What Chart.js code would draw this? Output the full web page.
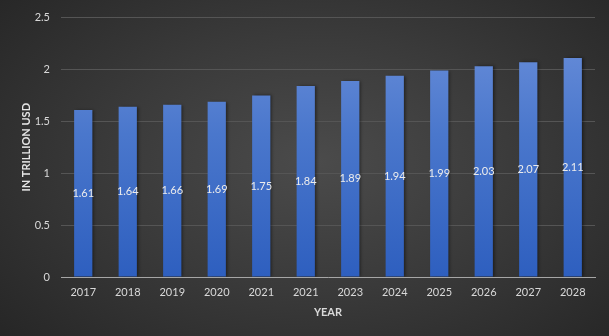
<!DOCTYPE html>
<html>
<head>
<meta charset="utf-8">
<script src="https://cdn.jsdelivr.net/npm/chart.js@4"></script>
<style>
  html, body { margin: 0; padding: 0; }
  #wrap {
    width: 609px; height: 336px; position: relative;
    background: radial-gradient(ellipse 75% 85% at 52% 48%, #4b4b4b 0%, #3a3a3a 45%, #232323 100%);
  }
</style>
</head>
<body>
<div id="wrap"><canvas id="chart" width="609" height="336"></canvas></div>
<script>
// chart data
const years = ['2017', '2018', '2019', '2020', '2021', '2021', '2023', '2024', '2025', '2026', '2027', '2028'];
const values = [1.61, 1.64, 1.66, 1.69, 1.75, 1.84, 1.89, 1.94, 1.99, 2.03, 2.07, 2.11];
const yTicks = [0, 0.5, 1, 1.5, 2, 2.5];

const tickFont = { family: 'Lato', size: 11 };

function barFill(context) {
  const area = context.chart.chartArea;
  if (!area) return '#4a76cc';
  const g = context.chart.ctx.createLinearGradient(0, area.bottom, 0, area.top);
  g.addColorStop(0, '#2e5fbf');
  g.addColorStop(0.55, '#4a77cc');
  g.addColorStop(0.85, '#6188d6');
  g.addColorStop(1, '#6a8fda');
  return g;
}

// shadow behind the bars
const barShadow = {
  id: 'barShadow',
  beforeDatasetsDraw(chart) {
    const ctx = chart.ctx;
    ctx.save();
    ctx.shadowColor = 'rgba(0,0,0,0.45)';
    ctx.shadowBlur = 3;
    ctx.shadowOffsetX = 2;
  },
  afterDatasetsDraw(chart) {
    chart.ctx.restore();
  }
};

// value labels in the middle of each bar
const midLabels = {
  id: 'midLabels',
  afterDatasetsDraw(chart) {
    const ctx = chart.ctx;
    const meta = chart.getDatasetMeta(0);
    ctx.save();
    ctx.fillStyle = '#ececec';
    ctx.font = '11px Lato';
    ctx.textAlign = 'center';
    ctx.textBaseline = 'middle';
    meta.data.forEach((bar, i) => {
      ctx.fillText(values[i].toFixed(2), bar.x, (bar.y + bar.base) / 2);
    });
    ctx.restore();
  }
};

new Chart(document.getElementById('chart'), {
  type: 'bar',
  data: {
    labels: years,
    datasets: [{
      data: values,
      backgroundColor: barFill,
      borderWidth: 0,
      categoryPercentage: 1,
      barPercentage: 0.41
    }]
  },
  options: {
    responsive: false,
    animation: false,
    layout: { padding: { top: 13, right: 14, left: 16, bottom: 13 } },
    plugins: {
      legend: { display: false },
      tooltip: { enabled: false }
    },
    scales: {
      x: {
        grid: { display: false, drawTicks: false },
        border: { color: '#a6a6a6', width: 1 },
        ticks: { color: '#d9d9d9', font: tickFont, padding: 9, maxRotation: 0 },
        title: {
          display: true, text: 'YEAR', color: '#d9d9d9',
          font: { family: 'Lato', size: 11, weight: 'bold' }, padding: { top: 9 }
        },
        afterFit(scale) { scale.height = 46; }
      },
      y: {
        min: 0,
        max: 2.5,
        afterBuildTicks(scale) { scale.ticks = yTicks.map(v => ({ value: v })); },
        grid: { color: '#555555', lineWidth: 1, drawTicks: false },
        border: { display: false },
        ticks: { color: '#d9d9d9', font: tickFont, padding: 11, callback: v => String(v) },
        title: {
          display: true, text: 'IN TRILLION USD', color: '#e6e6e6',
          font: { family: 'Lato', size: 11, weight: 'bold' }
        },
        afterFit(scale) { scale.width = 45; }
      }
    }
  },
  plugins: [barShadow, midLabels]
});
</script>
</body>
</html>
